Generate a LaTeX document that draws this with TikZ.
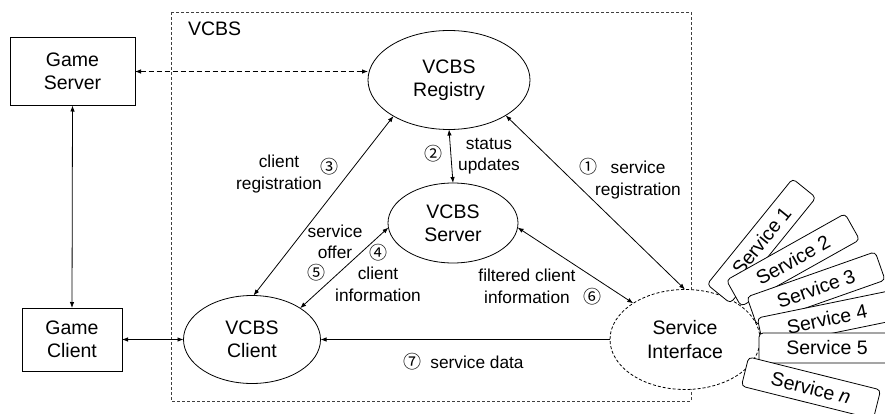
\documentclass[tikz,border=0pt]{standalone}
\usepackage{fontspec}
\setmainfont{Liberation Sans}
\newfontfamily\circfont{Noto Sans CJK SC}
\usetikzlibrary{shapes.geometric,arrows.meta}

\begin{document}
\begin{tikzpicture}[x=1pt,y=-1pt,
  every node/.style={inner sep=0pt, outer sep=0pt},
  bigtxt/.style={font=\fontsize{19.5}{23.4}\selectfont, align=center},
  smalltxt/.style={font=\fontsize{17.3}{21.5}\selectfont, align=center},
  numtxt/.style={font=\circfont\fontsize{18}{20}\selectfont},
  squarebox/.style={draw, line width=0.9pt, bigtxt},
  roundnode/.style={draw, ellipse, line width=0.8pt, fill=white, bigtxt},
  svcbox/.style={draw, fill=white, line width=0.8pt, rounded corners=4pt,
    minimum width=136pt, minimum height=30pt, bigtxt},
  link/.style={line width=0.8pt, {Latex[length=6pt,width=4.5pt]}-{Latex[length=6pt,width=4.5pt]}},
  oneway/.style={line width=0.8pt, -{Latex[length=6pt,width=4.5pt]}},
  vcbsframe/.style={draw=black!75, line width=0.8pt, dash pattern=on 3pt off 2pt}
]
\useasboundingbox (0,0) rectangle (885,414);

% VCBS frame
\draw[vcbsframe] (171,12) rectangle (691,401);
\node[bigtxt, anchor=west] (vcbslbl) at (188,29) {VCBS};

% game side
\node[squarebox, minimum width=125pt, minimum height=68pt] (gs) at (72.5,71.5) {Game\\Server};
\node[squarebox, minimum width=100pt, minimum height=63pt] (gc) at (72,339.5) {Game\\Client};

% VCBS components
\node[roundnode, minimum width=162pt, minimum height=99pt] (reg) at (449,80) {VCBS\\Registry};
\node[roundnode, minimum width=130pt, minimum height=80pt] (srv) at (453,223) {VCBS\\Server};
\node[roundnode, minimum width=137pt, minimum height=88pt] (cli) at (252,339.5) {VCBS\\Client};
\node[roundnode, dash pattern=on 3pt off 2pt, minimum width=150pt, minimum height=100pt] (sif) at (685,339.5) {Service\\Interface};

% connectors
\draw[link, dash pattern=on 5pt off 3pt] (gs.east) -- (gs.east -| reg.west);
\draw[link] (gs.south) -- (gc.north);
\draw[link] (gc.east) -- (cli.west);
\draw[link] (reg.213) -- (cli.88);
\draw[link] (reg.270) -- (srv.north);
\draw[link] (reg.328) -- (sif.north);
\draw[link] (srv.184) -- (cli.33);
\draw[link] (srv.356) -- (sif.145);
\draw[oneway] (sif.west) -- (cli.east);

% connector labels
\node[smalltxt] (l3) at (279,174) {client\\registration};
\node[numtxt] (n3) at (329,167) {③};
\node[numtxt] (n2) at (433,154) {②};
\node[smalltxt] (l2) at (489,156) {status\\updates};
\node[numtxt] (n1) at (588,167) {①};
\node[smalltxt] (l1) at (638,180) {service\\registration};
\node[smalltxt] (l5) at (335,242) {service\\offer};
\node[numtxt] (n5) at (316,273) {⑤};
\node[numtxt] (n4) at (378,253) {④};
\node[smalltxt] (l4) at (378,284.5) {client\\information};
\node[smalltxt] (l6) at (527,286.5) {filtered client\\information};
\node[numtxt] (n6) at (592,297) {⑥};
\node[numtxt] (n7) at (412,362) {⑦};
\node[smalltxt] (l7) at (477,362) {service data};

% fan of services
\node[svcbox, rotate=51] (s1) at (761.5,241) {Service 1};
\node[svcbox, rotate=29.3] (s2) at (793,260) {Service 2};
\node[svcbox, rotate=19.4] (s3) at (816,288.5) {Service 3};
\node[svcbox, rotate=11.6] (s4) at (827,319) {Service 4};
\node[svcbox] (s5) at (827,348) {Service 5};
\node[svcbox, rotate=-14] (sn) at (811,388) {Service \textit{n}};
\end{tikzpicture}
\end{document}
